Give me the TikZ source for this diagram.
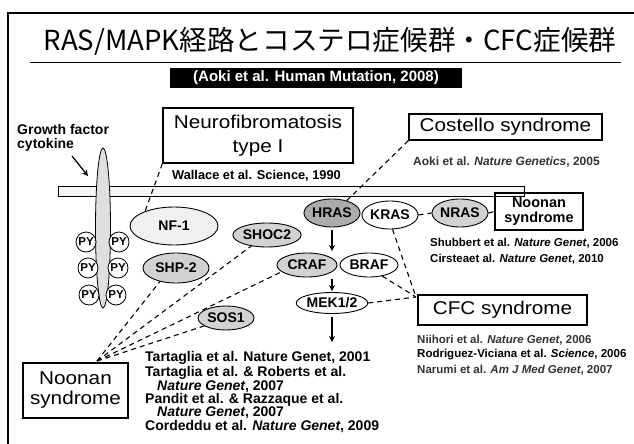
\documentclass[tikz,border=0pt]{standalone}
\usepackage{fontspec}
\setmainfont{Liberation Sans}
\newfontfamily\cjk{Noto Sans CJK JP}
\newfontfamily\widefont{Liberation Sans}[FakeStretch=1.12]
\usetikzlibrary{shapes.geometric,arrows.meta,calc}
\begin{document}
\begin{tikzpicture}[x=1pt,y=-1pt,
  sbox/.style={draw, line width=1.2pt, inner sep=0pt, align=center},
  prot/.style={ellipse, draw, line width=0.9pt, inner sep=0pt, font=\fontsize{14}{14}\selectfont\bfseries},
  py/.style={circle, draw, line width=0.8pt, fill=white, minimum size=20pt, inner sep=0pt, font=\fontsize{11.5}{11.5}\selectfont\bfseries},
  cite/.style={anchor=west, inner sep=0pt, font=\fontsize{12}{14}\selectfont\bfseries},
  citesm/.style={cite, font=\fontsize{11.5}{13}\selectfont\bfseries},
  citebig/.style={cite, font=\fontsize{14}{14}\selectfont\bfseries},
  dl/.style={dash pattern=on 5pt off 4pt, line width=1.1pt},
  arr/.style={-{Stealth[length=6pt,width=6pt]}, line width=1.2pt},
  boxfont/.style={font=\widefont\fontsize{18.5}{24}\selectfont}
]
\useasboundingbox (0,0) rectangle (634,444);
\fill[white] (0,0) rectangle (634,444);
% frame
\draw[line width=1.5pt] (8,444) -- (8,13) -- (634,13);
% title
\node[font=\cjk\fontsize{27.6}{27.6}\selectfont, inner sep=0pt] (title) at (330,41) {RAS/MAPK経路とコステロ症候群・CFC症候群};
\draw[line width=1pt] (30,63) -- (621,63);
\node[fill=black, text=white, minimum width=292pt, minimum height=20pt, inner sep=0pt,
      font=\fontsize{15}{15}\selectfont\bfseries] (ref) at (316,78) {(Aoki et al. Human Mutation, 2008)};
% growth factor
\node[citebig] (gf) at (17,129) {Growth factor};
\node[citebig] (ck) at (17,145) {cytokine};
\coordinate (gfa) at (72,156);
\coordinate (gfb) at (88,176);
\draw[arr] (gfa) -- (gfb);
% membrane and receptor
\node[draw, fill=gray!8, line width=0.8pt, minimum width=466pt, minimum height=10pt, inner sep=0pt] (bar) at (291,191) {};
\node[ellipse, draw, line width=0.8pt, fill=gray!25, minimum width=15pt, minimum height=160pt, inner sep=0pt] (rec) at (103,228) {};
\node[py] (py1) at (86,242) {PY};
\node[py] (py2) at (119,242) {PY};
\node[py] (py3) at (88,268) {PY};
\node[py] (py4) at (118,268) {PY};
\node[py] (py5) at (89,295) {PY};
\node[py] (py6) at (116,295) {PY};
% boxes
\node[sbox, boxfont, minimum width=190pt, minimum height=55pt] (neuro) at (258,135.5) {Neurofibromatosis\\type I};
\node[sbox, boxfont, minimum width=193pt, minimum height=26pt] (cost) at (505.5,127) {Costello syndrome};
\node[sbox, font=\fontsize{14.5}{15}\selectfont\bfseries, minimum width=88pt, minimum height=37pt] (noonr) at (539,211.5) {Noonan\\syndrome};
\node[sbox, boxfont, minimum width=169pt, minimum height=30pt] (cfc) at (502.5,310) {CFC syndrome};
\node[sbox, font=\widefont\fontsize{18.5}{20}\selectfont, minimum width=105pt, minimum height=55pt] (noonl) at (75.5,390.5) {Noonan\\syndrome};
% proteins
\node[prot, fill=gray!12, minimum width=88pt, minimum height=38pt] (nf1) at (174,226) {NF-1};
\node[prot, fill=gray!35, minimum width=66pt, minimum height=30pt] (shp2) at (176,268) {SHP-2};
\node[prot, fill=gray!35, minimum width=62pt, minimum height=24pt] (shoc2) at (267,235) {SHOC2};
\node[prot, fill=gray!65, minimum width=52pt, minimum height=28pt] (hras) at (332,213) {HRAS};
\node[prot, fill=white, minimum width=54pt, minimum height=28pt] (kras) at (390,215) {KRAS};
\node[prot, fill=gray!35, minimum width=56pt, minimum height=28pt] (nras) at (460,213) {NRAS};
\node[prot, fill=gray!35, minimum width=60pt, minimum height=24pt] (craf) at (307,265) {CRAF};
\node[prot, fill=white, minimum width=58pt, minimum height=24pt] (braf) at (369,265) {BRAF};
\node[prot, fill=white, minimum width=70pt, minimum height=21pt] (mek) at (332,303) {MEK1/2};
\node[prot, fill=gray!35, minimum width=56pt, minimum height=24pt] (sos1) at (226,318) {SOS1};
% arrows
\coordinate (a1) at (332,251);
\coordinate (a2) at (332,279);
\coordinate (a3) at (332,342);
\draw[arr, shorten <=3pt] (hras) -- (a1);
\draw[arr, shorten >=1pt] (a2) -- (mek);
\draw[arr, shorten <=3pt] (mek) -- (a3);
% dashed connectors
\draw[dl] (neuro.south west) -- (nf1.153);
\draw[dl] (hras.40) -- (cost.south west);
\draw[dl] (kras.east) -- (nras.west);
\draw[dl] (nras.east) -- (noonr.west);
\coordinate (cfcin) at (416,297);
\draw[dl] (kras.-80) -- (cfcin);
\draw[dl] (braf.-40) -- (cfcin);
\draw[dl] (mek.east) -- (cfcin);
\coordinate (nl) at (97,361);
\draw[dl] (nl) -- (shp2.220);
\draw[dl] (nl) -- (shoc2.215);
\draw[dl] (nl) -- (craf.195);
\draw[dl] (nl) -- (sos1.200);
% citations
\node[cite, font=\fontsize{12.8}{14}\selectfont\bfseries] (wal) at (172,176) {Wallace et al. Science, 1990};
\node[cite, text=black!80] (aok) at (413,162) {Aoki et al. \textit{Nature Genetics}, 2005};
\node[citesm] (shu) at (430,243) {Shubbert et al. \textit{Nature Genet}, 2006};
\node[citesm] (cir) at (430,259) {Cirsteaet al. \textit{Nature Genet}, 2010};
\node[citesm, text=black!80] (nii) at (417,340) {Niihori et al. \textit{Nature Genet}, 2006};
\node[citesm] (rod) at (417,355) {Rodriguez-Viciana et al. \textit{Science}, 2006};
\node[citesm, text=black!80] (nar) at (417,370) {Narumi et al. \textit{Am J Med Genet}, 2007};
\node[citebig] (t1) at (145,358) {Tartaglia et al. Nature Genet, 2001};
\node[citebig] (t2) at (145,373) {Tartaglia et al. \& Roberts et al.};
\node[citebig] (t3) at (157,387) {\textit{Nature Genet}, 2007};
\node[citebig] (t4) at (145,400) {Pandit et al. \& Razzaque et al.};
\node[citebig] (t5) at (157,413) {\textit{Nature Genet}, 2007};
\node[citebig] (t6) at (145,427) {Cordeddu et al. \textit{Nature Genet}, 2009};
\end{tikzpicture}
\end{document}
